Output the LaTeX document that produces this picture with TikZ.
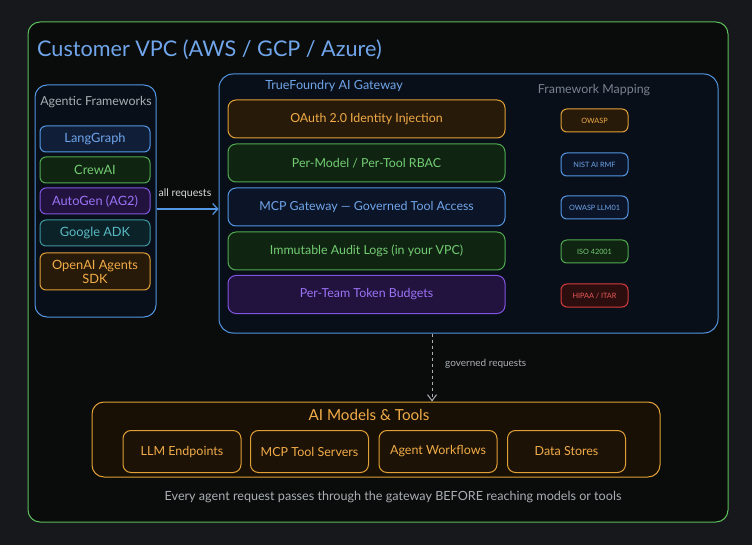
\documentclass[tikz,border=0pt]{standalone}
\usepackage{fontspec}
\setmainfont{Lato}
\usetikzlibrary{arrows.meta}

\definecolor{pagebg}{RGB}{22,24,27}
\definecolor{vpcbg}{RGB}{9,12,10}
\definecolor{vpcline}{RGB}{92,190,92}
\definecolor{blueline}{RGB}{82,150,228}
\definecolor{bluetext}{RGB}{112,165,235}
\definecolor{bluefill}{RGB}{16,30,56}
\definecolor{panelfill}{RGB}{9,15,24}
\definecolor{greenline}{RGB}{80,170,80}
\definecolor{greentext}{RGB}{115,205,115}
\definecolor{greenfill}{RGB}{16,36,18}
\definecolor{orangeline}{RGB}{225,160,55}
\definecolor{orangetext}{RGB}{242,172,72}
\definecolor{orangefill}{RGB}{40,26,8}
\definecolor{purpleline}{RGB}{130,85,225}
\definecolor{purpletext}{RGB}{155,115,245}
\definecolor{purplefill}{RGB}{34,18,62}
\definecolor{tealline}{RGB}{60,150,160}
\definecolor{tealtext}{RGB}{90,185,195}
\definecolor{tealfill}{RGB}{10,34,40}
\definecolor{redline}{RGB}{215,60,60}
\definecolor{redtext}{RGB}{235,90,90}
\definecolor{redfill}{RGB}{45,14,14}
\definecolor{greytext}{RGB}{170,175,180}
\definecolor{dimtext}{RGB}{120,130,145}

\begin{document}
\begin{tikzpicture}[x=1pt,y=-1pt,
  box/.style={draw,rounded corners=6pt,line width=1pt,inner sep=0pt,align=center},
  tint/.style n args={3}{box,draw=#1,fill=#2,text=#3},
  fwbox/.style={minimum width=110pt,minimum height=26pt,font=\fontsize{12.8}{14}\selectfont},
  bar/.style={minimum width=277pt,minimum height=38pt,rounded corners=8pt,font=\fontsize{12.4}{14}\selectfont},
  badge/.style={minimum width=67pt,minimum height=23pt,font=\fontsize{7.3}{8}\selectfont},
  target/.style={tint={orangeline}{orangefill!70!black}{orangetext},minimum width=118pt,minimum height=42pt,rounded corners=8pt,font=\fontsize{12.5}{14}\selectfont},
  label/.style={inner sep=1pt,font=\fontsize{10}{11}\selectfont,text=greytext},
  flow/.style={draw=blueline,line width=1.2pt,-{Straight Barb[length=5pt,width=11pt]}}
]
\useasboundingbox[fill=pagebg] (0,0) rectangle (752,545);

% outer customer VPC
\node[box,draw=vpcline,fill=vpcbg,rounded corners=12pt,minimum width=700pt,minimum height=500pt] (vpc) at (378,272) {};
\node[anchor=west,inner sep=0pt,text=bluetext,font=\fontsize{21.6}{25}\selectfont] (vpctitle) at (37,50) {Customer VPC (AWS / GCP / Azure)};

% agentic frameworks column
\node[tint={blueline}{panelfill}{greytext},rounded corners=12pt,minimum width=121pt,minimum height=232pt] (fw) at (95.5,201) {};
\node[text=greytext,font=\fontsize{12.4}{14}\selectfont] (fwtitle) at (96,102) {Agentic Frameworks};
\node[tint={blueline}{bluefill}{bluetext},fwbox] (langgraph) at (95,139) {LangGraph};
\node[tint={greenline}{greenfill}{greentext},fwbox] (crewai) at (95,170) {CrewAI};
\node[tint={purpleline}{purplefill}{purpletext},fwbox] (autogen) at (95,201) {AutoGen (AG2)};
\node[tint={tealline}{tealfill}{tealtext},fwbox] (googleadk) at (95,233) {Google ADK};
\node[tint={orangeline}{orangefill}{orangetext},fwbox,minimum height=37pt] (openai) at (95,271.5) {OpenAI Agents\\SDK};

% gateway
\node[tint={blueline}{panelfill}{bluetext},rounded corners=14pt,minimum width=499pt,minimum height=259pt] (gw) at (468.5,203.5) {};
\node[text=bluetext,font=\fontsize{12.6}{14}\selectfont] (gwtitle) at (334,86) {TrueFoundry AI Gateway};
\node[text=dimtext,font=\fontsize{12.4}{14}\selectfont] (maptitle) at (594,90) {Framework Mapping};

\node[tint={orangeline}{orangefill}{orangetext},bar] (oauth) at (366.5,119) {OAuth 2.0 Identity Injection};
\node[tint={greenline}{greenfill}{greentext},bar] (rbac) at (366.5,163) {Per-Model / Per-Tool RBAC};
\node[tint={blueline}{bluefill!70!black}{bluetext},bar] (mcpgw) at (366.5,207) {MCP Gateway --- Governed Tool Access};
\node[tint={greenline}{greenfill}{greentext},bar] (audit) at (366.5,251) {Immutable Audit Logs (in your VPC)};
\node[tint={purpleline}{purplefill}{purpletext},bar] (budget) at (366.5,294.5) {Per-Team Token Budgets};

\node[tint={orangeline}{orangefill}{orangetext},badge] (owasp) at (594.5,120.5) {OWASP};
\node[tint={blueline}{bluefill!70!black}{bluetext},badge] (nist) at (594.5,164.5) {NIST AI RMF};
\node[tint={blueline}{bluefill!70!black}{bluetext},badge] (llm01) at (594.5,207.5) {OWASP LLM01};
\node[tint={greenline}{greenfill}{greentext},badge] (iso) at (594.5,251.5) {ISO 42001};
\node[tint={redline}{redfill}{redtext},badge] (hipaa) at (594.5,295.5) {HIPAA / ITAR};

% requests in
\coordinate (reqline) at (0,209);
\draw[flow] (fw.east |- reqline) -- (gw.west |- reqline);
\node[label,text=white!85!black,font=\fontsize{10.6}{12}\selectfont] (reqlabel) at (185,194) {all requests};

% models and tools
\node[tint={orangeline}{orangefill!60!black}{orangetext},rounded corners=12pt,minimum width=568pt,minimum height=75pt] (models) at (376,439.5) {};
\node[text=orangetext,font=\fontsize{15.2}{17}\selectfont] (modelstitle) at (369,415) {AI Models \& Tools};
\node[target] (llm) at (182,451.5) {LLM Endpoints};
\node[target] (mcpsrv) at (309.5,451.5) {MCP Tool Servers};
\node[target] (workflow) at (438,451.5) {Agent Workflows};
\node[target] (stores) at (566.5,451.5) {Data Stores};

% governed requests out
\coordinate (govline) at (432,0);
\draw[draw=greytext,line width=1pt,dashed,-{Straight Barb[length=6pt,width=9pt]}] (gw.south -| govline) -- (models.north -| govline);
\node[label,anchor=west] (govlabel) at (444,364) {governed requests};

\node[text=greytext,font=\fontsize{12.6}{14}\selectfont] (footer) at (393,497) {Every agent request passes through the gateway BEFORE reaching models or tools};
\end{tikzpicture}
\end{document}
